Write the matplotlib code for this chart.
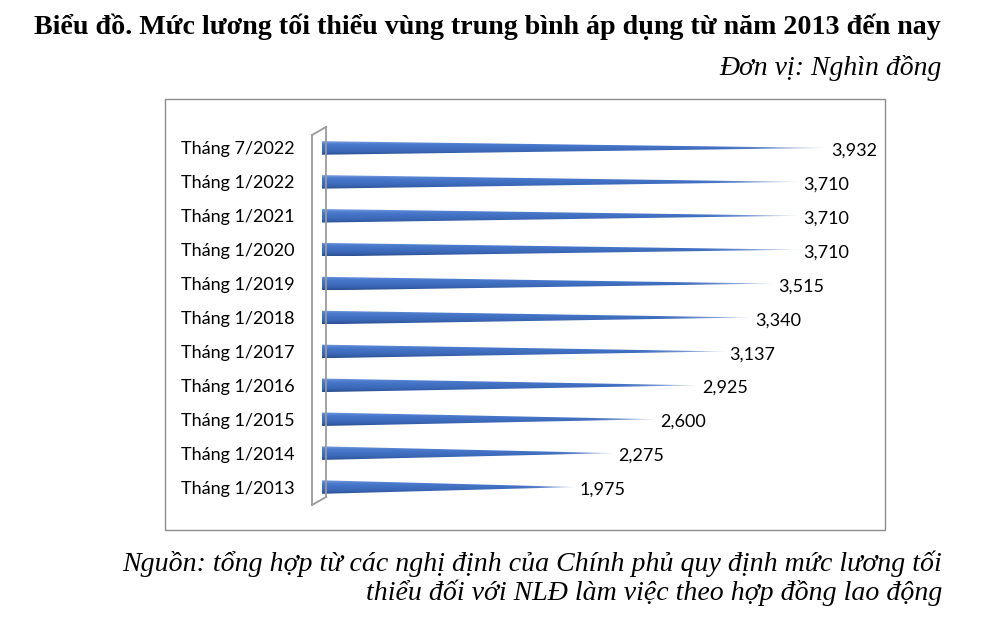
import numpy as np
import matplotlib
matplotlib.use('Agg')
import matplotlib.pyplot as plt
from matplotlib.path import Path
from matplotlib.patches import PathPatch, Rectangle
from matplotlib.lines import Line2D
from matplotlib.colors import to_rgb

# ---- data ----
labels = ['Tháng 1/2013', 'Tháng 1/2014', 'Tháng 1/2015', 'Tháng 1/2016',
          'Tháng 1/2017', 'Tháng 1/2018', 'Tháng 1/2019', 'Tháng 1/2020',
          'Tháng 1/2021', 'Tháng 1/2022', 'Tháng 7/2022']
values = [1975, 2275, 2600, 2925, 3137, 3340, 3515, 3710, 3710, 3710, 3932]

title = 'Biểu đồ. Mức lương tối thiểu vùng trung bình áp dụng từ năm 2013 đến nay'
unit = 'Đơn vị: Nghìn đồng'
source = ('Nguồn: tổng hợp từ các nghị định của Chính phủ quy định mức lương tối\n'
          'thiểu đối với NLĐ làm việc theo hợp đồng lao động')

W, H = 1006, 622
fig = plt.figure(figsize=(W / 100, H / 100), dpi=100)

def fx(px):
    return px / W

def fy(py):
    return 1 - py / H

#-- chart frame
fig.patches.append(Rectangle((fx(165), fy(530)), fx(885) - fx(165), fy(99) - fy(530),
                             transform=fig.transFigure, fill=False,
                             edgecolor='#8c8c8c', linewidth=1.0))

#-- 3D wall behind the cones
wall = [((312, 135), (312, 505)), ((312, 135), (326, 127)), ((326, 127), (326, 497)),
        ((312, 505), (326, 497))]
for (x0, y0), (x1, y1) in wall:
    fig.lines.append(Line2D([fx(x0), fx(x1)], [fy(y0), fy(y1)], transform=fig.transFigure,
                            color='#9a9a9a', linewidth=1.3))

#-- plot area
px0, px1 = 322, 885
scale = 0.1285  # px per unit
ytop, ybot = 148 - 17, 487 + 17
ax = fig.add_axes([fx(px0), fy(ybot), fx(px1) - fx(px0), fy(ytop) - fy(ybot)])
ax.set_facecolor('none')
xmax = (px1 - px0) / scale

# vertical colour profile of a cone (top -> bottom)
stops = ['#7aa0e0', '#4f7ed0', '#4473c6', '#3f6cbd', '#3763b0', '#2a4e8f']
prof = np.array([to_rgb(c) for c in stops])
ny, nx = 40, 200
t = np.linspace(0, 1, ny)
col = np.stack([np.interp(t, np.linspace(0, 1, len(stops)), prof[:, k]) for k in range(3)], axis=1)
xs = np.linspace(0, 1, nx)
fade = np.clip((xs - 0.78) / 0.22, 0, 1) ** 1.5

h = 0.2
a = 3.5 / scale
for i, v in enumerate(values):
    arc = [(a * np.cos(s), i + h * np.sin(s)) for s in np.linspace(3 * np.pi / 2, np.pi / 2, 20)]
    verts = [(0, i + h), (v, i), (0, i - h)] + arc
    patch = PathPatch(Path(verts + [verts[0]]), facecolor='none', edgecolor='none')
    ax.add_patch(patch)
    img = np.ones((ny, nx, 4))
    for k in range(3):
        img[:, :, k] = col[:, k][:, None] * (1 - 0.7 * fade[None, :]) + 0.7 * fade[None, :]
    im = ax.imshow(img, extent=[-a, v, i - h, i + h], origin='upper', aspect='auto',
                   interpolation='bilinear', zorder=2)
    im.set_clip_path(patch)
    ax.annotate(f'{v:,}', (v, i), xytext=(3, -2), textcoords='offset points',
                ha='left', va='center', fontsize=13, family='Lato', color='black')

ax.set_xlim(0, xmax)
ax.set_ylim(-0.5, len(values) - 0.5)
ax.set_yticks(range(len(values)))
ax.set_yticklabels(labels, fontsize=13, family='Lato')
ax.tick_params(axis='y', length=0, pad=19.5)
ax.set_xticks([])
for sp in ax.spines.values():
    sp.set_visible(False)

#-- titles
fig.text(fx(941), fy(27), title, ha='right', va='center', fontsize=20.2,
         fontweight='bold', family='Liberation Serif')
fig.text(fx(942), fy(68), unit, ha='right', va='center', fontsize=20,
         style='italic', family='Liberation Serif')
fig.text(fx(942), fy(578), source, ha='right', va='center', fontsize=20.1,
         style='italic', family='Liberation Serif', linespacing=1.12, multialignment='right')

fig.savefig('out.png', dpi=100)
